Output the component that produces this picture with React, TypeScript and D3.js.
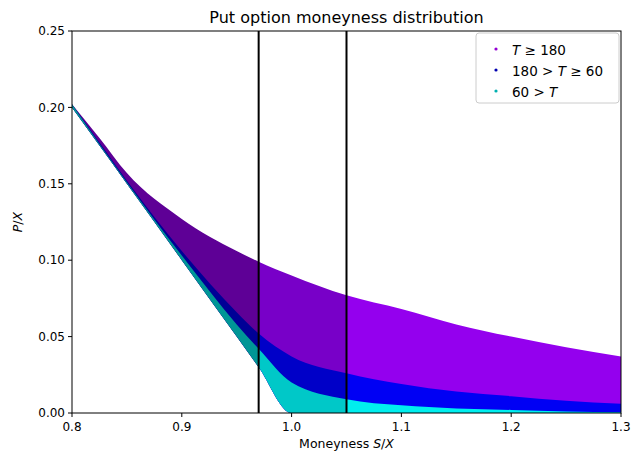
import React from "react";
import * as d3 from "d3";

const xs = [0.8, 0.825, 0.85, 0.9, 0.95, 0.97, 1.0, 1.05, 1.1, 1.15, 1.2, 1.25, 1.3];
const upperLong = [0.202, 0.18, 0.157, 0.127, 0.106, 0.099, 0.09, 0.077, 0.068, 0.058, 0.05, 0.043, 0.037];
const upperMid = [0.202, 0.177, 0.152, 0.106, 0.066, 0.052, 0.037, 0.026, 0.019, 0.014, 0.011, 0.008, 0.006];
const upperShort = [0.202, 0.176, 0.151, 0.103, 0.058, 0.042, 0.02, 0.009, 0.005, 0.003, 0.002, 0.001, 0.0005];
const lowerBound = [0.2, 0.175, 0.15, 0.1, 0.05, 0.03, 0.0, 0.0, 0.0, 0.0, 0.0, 0.0, 0.0];
const xTicks = [0.8, 0.9, 1.0, 1.1, 1.2, 1.3];
const yTicks = [0, 0.05, 0.1, 0.15, 0.2, 0.25];
const vLines = [0.97, 1.05];

// colours per region: left of 0.97, between, right of 1.05
const regionColors = [
  ["#5e0096", "#000096", "#009696"],
  ["#7800c8", "#0000c8", "#00c8c8"],
  ["#9400ee", "#0000f4", "#00eeee"],
];
const legendColors = ["#9400d3", "#0000b0", "#00b0b0"];

export default function App() {
  const W = 632, H = 458;
  const L = 72, R = 621, T = 31, B = 413;
  const x = d3.scaleLinear().domain([0.8, 1.3]).range([L, R]);
  const y = d3.scaleLinear().domain([0, 0.25]).range([B, T]);
  const band = (up: number[]) =>
    d3.area<number>()
      .x((_, i) => x(xs[i]))
      .y0((_, i) => y(lowerBound[i]))
      .y1((_, i) => y(up[i]))
      .curve(d3.curveMonotoneX)(xs.map((_, i) => i)) || "";
  const bands = [band(upperLong), band(upperMid), band(upperShort)];
  const regions = [
    [0.8, 0.97],
    [0.97, 1.05],
    [1.05, 1.3],
  ];
  const font = "DejaVu Sans, sans-serif";
  return (
    <svg width={W} height={H} style={{ position: "absolute", left: 0, top: 0, background: "#fff" }} fontFamily={font}>
      <defs>
        {regions.map((r, k) => (
          <clipPath id={`reg${k}`} key={k}>
            <rect x={x(r[0])} y={T} width={x(r[1]) - x(r[0])} height={B - T} />
          </clipPath>
        ))}
      </defs>
      {regions.map((_, k) => (
        <g key={k} clipPath={`url(#reg${k})`}>
          {bands.map((d, s) => (
            <path key={s} d={d} fill={regionColors[k][s]} />
          ))}
        </g>
      ))}
      {vLines.map((v) => (
        <line key={v} x1={x(v)} x2={x(v)} y1={T} y2={B} stroke="#000" strokeWidth={2} />
      ))}
      <rect x={L} y={T} width={R - L} height={B - T} fill="none" stroke="#000" strokeWidth={1} />
      {xTicks.map((t) => (
        <g key={t} transform={`translate(${x(t)},${B})`}>
          <line y2={4} stroke="#000" />
          <text y={18} textAnchor="middle" fontSize={12}>{t.toFixed(1)}</text>
        </g>
      ))}
      {yTicks.map((t) => (
        <g key={t} transform={`translate(${L},${y(t)})`}>
          <line x2={-4} stroke="#000" />
          <text x={-7} dy="0.35em" textAnchor="end" fontSize={12}>{t.toFixed(2)}</text>
        </g>
      ))}
      <text x={(L + R) / 2} y={23} textAnchor="middle" fontSize={16}>Put option moneyness distribution</text>
      <text x={(L + R) / 2} y={448} textAnchor="middle" fontSize={12.5}>
        Moneyness <tspan fontStyle="italic">S</tspan>/<tspan fontStyle="italic">X</tspan>
      </text>
      <text transform={`translate(22,${(T + B) / 2}) rotate(-90)`} textAnchor="middle" fontSize={12.5}>
        <tspan fontStyle="italic">P</tspan>/<tspan fontStyle="italic">X</tspan>
      </text>
      <g transform="translate(476,37)">
        <rect x={0} y={-4} width={143} height={70} rx={3} fill="#fff" stroke="#ccc" />
        {[
          ["T ≥ 180", 0],
          ["180 > T ≥ 60", 1],
          ["60 > T", 2],
        ].map(([lab, i]) => (
          <g key={i as number} transform={`translate(0,${13 + (i as number) * 21})`}>
            <circle cx={20} cy={-1} r={1.6} fill={legendColors[i as number]} />
            <text x={36} dy="0.35em" fontSize={13.5}>
              {(lab as string).split(/(T)/).map((p, j) =>
                p === "T" ? <tspan key={j} fontStyle="italic">T</tspan> : <tspan key={j}>{p}</tspan>
              )}
            </text>
          </g>
        ))}
      </g>
    </svg>
  );
}
